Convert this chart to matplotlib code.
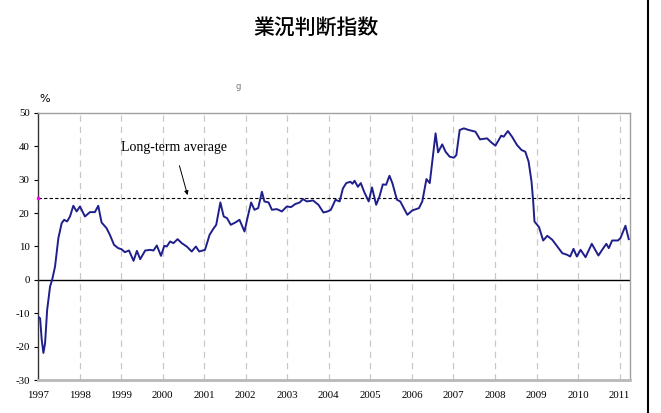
import matplotlib
matplotlib.use("Agg")
import matplotlib.pyplot as plt
from matplotlib.lines import Line2D

# --- data (year fraction, index value in %) ---
years = [
    1997.02, 1997.05, 1997.09, 1997.13, 1997.17, 1997.22, 1997.29, 1997.34, 1997.41, 1997.49,
    1997.57, 1997.63, 1997.70, 1997.77, 1997.85, 1997.93, 1998.01, 1998.07, 1998.13, 1998.25,
    1998.37, 1998.45, 1998.53, 1998.65, 1998.73, 1998.83, 1998.93, 1999.01, 1999.09, 1999.19,
    1999.30, 1999.38, 1999.46, 1999.58, 1999.70, 1999.78, 1999.86, 1999.96, 2000.04, 2000.10,
    2000.18, 2000.26, 2000.36, 2000.46, 2000.58, 2000.70, 2000.80, 2000.88, 2001.02, 2001.13,
    2001.22, 2001.29, 2001.39, 2001.47, 2001.55, 2001.64, 2001.75, 2001.85, 2001.97, 2002.05,
    2002.13, 2002.21, 2002.30, 2002.39, 2002.45, 2002.55, 2002.63, 2002.75, 2002.87, 2002.99,
    2003.09, 2003.19, 2003.30, 2003.38, 2003.47, 2003.62, 2003.75, 2003.87, 2003.97, 2004.05,
    2004.16, 2004.26, 2004.34, 2004.42, 2004.52, 2004.57, 2004.62, 2004.70, 2004.77, 2004.85,
    2004.96, 2005.04, 2005.14, 2005.22, 2005.30, 2005.38, 2005.46, 2005.53, 2005.64, 2005.72,
    2005.89, 2006.01, 2006.17, 2006.25, 2006.35, 2006.43, 2006.57, 2006.63, 2006.73, 2006.81,
    2006.91, 2007.01, 2007.07, 2007.15, 2007.25, 2007.37, 2007.53, 2007.64, 2007.81, 2007.91,
    2008.01, 2008.15, 2008.21, 2008.31, 2008.41, 2008.53, 2008.64, 2008.73, 2008.81, 2008.88,
    2008.92, 2008.95, 2009.06, 2009.16, 2009.26, 2009.38, 2009.50, 2009.62, 2009.74, 2009.81,
    2009.89, 2009.97, 2010.06, 2010.18, 2010.33, 2010.49, 2010.58, 2010.68, 2010.74, 2010.82,
    2010.96, 2011.02, 2011.14, 2011.22,
]
values = [
    -11.2, -11.5, -18.0, -21.9, -19.0, -9.0, -2.0, 0.0, 4.0, 12.5,
    17.0, 18.0, 17.5, 19.0, 22.2, 20.5, 22.0, 20.5, 19.0, 20.3,
    20.3, 22.2, 17.2, 15.5, 13.5, 10.5, 9.5, 9.2, 8.3, 8.8,
    5.7, 8.7, 6.2, 8.8, 9.0, 8.8, 10.3, 7.2, 10.2, 10.0,
    11.5, 11.0, 12.2, 11.0, 10.0, 8.5, 10.0, 8.5, 9.0, 13.5,
    15.3, 16.5, 23.2, 19.0, 18.5, 16.5, 17.2, 18.0, 14.5, 19.0,
    23.2, 21.0, 21.5, 26.4, 23.5, 23.2, 21.0, 21.2, 20.5, 22.0,
    21.8, 22.7, 23.2, 24.2, 23.5, 23.8, 22.5, 20.2, 20.5, 21.0,
    24.0, 23.5, 27.4, 29.0, 29.4, 28.8, 29.7, 27.9, 29.0, 26.4,
    23.5, 27.7, 22.5, 25.0, 28.6, 28.5, 31.2, 29.0, 24.0, 23.5,
    19.5, 20.8, 21.5, 23.5, 30.2, 29.0, 43.9, 38.2, 40.6, 38.4,
    36.9, 36.6, 37.4, 44.9, 45.4, 44.9, 44.4, 42.1, 42.4, 41.2,
    40.2, 43.2, 42.9, 44.6, 42.9, 40.4, 38.9, 38.4, 35.4, 29.4,
    23.5, 17.5, 15.8, 11.8, 13.2, 12.0, 10.0, 8.0, 7.5, 7.0,
    9.3, 7.0, 9.0, 6.8, 10.8, 7.3, 9.0, 10.8, 9.5, 11.8,
    11.8, 12.5, 16.2, 12.2,
]
long_term_avg = 24.6
year_ticks = list(range(1997, 2012))
y_ticks = [-30, -20, -10, 0, 10, 20, 30, 40, 50]

title = "業況判断指数"

fig = plt.figure(figsize=(6.61, 4.13), dpi=100)
ax = fig.add_axes([0.0575, 0.0799, 0.8956, 0.6465])

serif = "Liberation Serif"

# vertical dashed year lines
for yr in year_ticks[1:]:
    ax.axvline(yr, color="#c8c8c8", lw=0.9, ls=(0, (5, 4)), zorder=1)

ax.axhline(0, color="black", lw=1.0, zorder=2)
ax.axhline(long_term_avg, color="black", lw=0.8, ls=(0, (3, 2)), zorder=2)
ax.plot([1997.0], [long_term_avg], marker="s", ms=1.6, color="magenta", clip_on=False, zorder=4)

ax.plot(years, values, color="#1f1f8c", lw=1.4, zorder=3)

ax.set_xlim(1997.0, 2011.25)
ax.set_ylim(-30, 50)
ax.set_xticks(year_ticks)
ax.set_xticklabels([str(y) for y in year_ticks], fontfamily=serif, fontsize=7.8)
ax.set_yticks(y_ticks)
ax.set_yticklabels([str(v) for v in y_ticks], fontfamily=serif, fontsize=7.8)
ax.tick_params(axis="x", length=0, pad=8)
ax.tick_params(axis="y", length=3, width=0.8, pad=3)

for side in ["top", "right"]:
    ax.spines[side].set_color("#a0a0a0")
    ax.spines[side].set_linewidth(1.0)
ax.spines["bottom"].set_color("#b8b8b8")
ax.spines["bottom"].set_linewidth(2.0)
ax.spines["left"].set_color("#333333")
ax.spines["left"].set_linewidth(1.0)

ax.text(0.003, 1.035, "%", transform=ax.transAxes, fontsize=8, fontfamily="DejaVu Sans",
        ha="left", va="bottom")

ax.annotate("Long-term average", xy=(2000.6, 25.4), xytext=(2000.28, 39.8),
            fontfamily=serif, fontsize=10, ha="center", va="center",
            arrowprops=dict(arrowstyle="-|>", color="black", lw=0.7, mutation_scale=6,
                            shrinkA=7, shrinkB=0))

fig.text(0.478, 0.932, title, fontsize=15, fontweight="medium", ha="center", va="center",
         fontfamily=["Noto Sans CJK JP", "DejaVu Sans"])
fig.text(0.36, 0.79, "g", fontsize=6, color="#777777", ha="center", va="center")

# page border line on the right
fig.add_artist(Line2D([0.980, 0.980], [0, 1], transform=fig.transFigure, color="black", lw=1.5))

fig.savefig("out.png", dpi=100)
